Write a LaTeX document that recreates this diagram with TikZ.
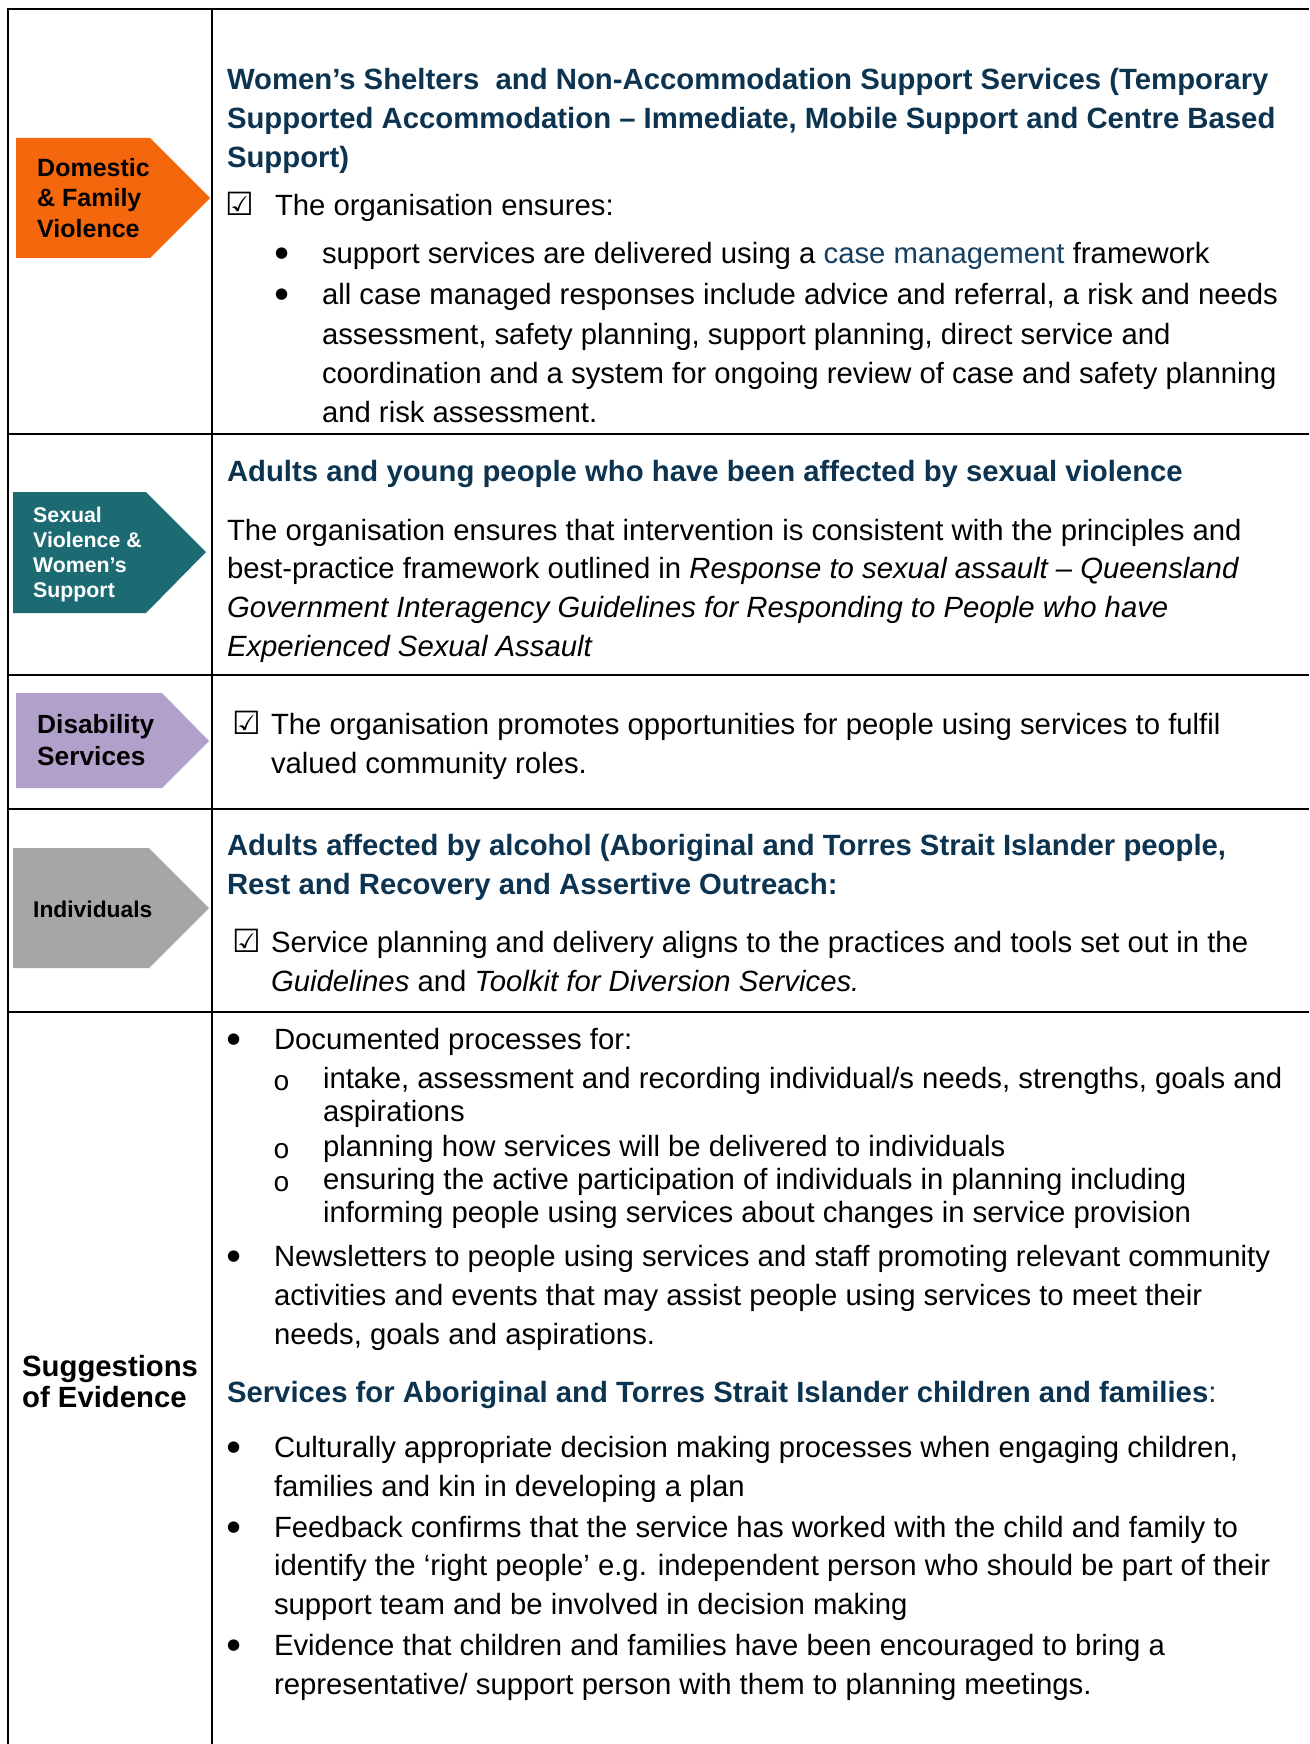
\documentclass[tikz,border=0pt]{standalone}
\usepackage{fontspec}
\setmainfont{Liberation Sans}
\newfontfamily\symfont{DejaVu Sans}
\newfontfamily\obullfont{Liberation Mono}
\definecolor{dforange}{RGB}{245,103,13}
\definecolor{svteal}{RGB}{28,107,114}
\definecolor{dispurple}{RGB}{177,161,202}
\definecolor{indgray}{RGB}{166,166,166}
\definecolor{navy}{RGB}{12,52,80}
\definecolor{linkblue}{RGB}{22,64,98}
\begin{document}
\begin{tikzpicture}[x=1pt,y=-1pt,
  gridline/.style={line width=2.6pt,black},
  txt/.style={anchor=base west,inner sep=0pt,outer sep=0pt,font=\fontsize{29.3}{35}\selectfont},
  hd/.style={txt,text=navy,font=\fontsize{29.3}{35}\selectfont\bfseries},
  chk/.style={anchor=base west,inner sep=0pt,font=\symfont\fontsize{32}{36}\selectfont},
  bul/.style={anchor=base west,inner sep=0pt,font=\symfont\fontsize{15}{20}\selectfont},
  obul/.style={anchor=base west,inner sep=0pt,font=\obullfont\fontsize{28}{30}\selectfont},
  albl/.style={anchor=base west,inner sep=0pt,font=\bfseries}
]
\useasboundingbox (0,0) rectangle (1309,1744);
\fill[white] (0,0) rectangle (1309,1744);

% ---- arrows ----
\fill[dforange] (16,138) -- (150,138) -- (210,198) -- (150,258) -- (16,258) -- cycle;
\fill[svteal] (13,492) -- (146,492) -- (206,552) -- (146,613) -- (13,613) -- cycle;
\fill[dispurple] (16,693) -- (162,693) -- (209,741) -- (162,788) -- (16,788) -- cycle;
\fill[indgray] (13,848) -- (149,848) -- (209,908) -- (149,968) -- (13,968) -- cycle;

% arrow labels
\node[albl,font=\bfseries\fontsize{25}{30}\selectfont] (dfv1) at (37,177) {Domestic};
\node[albl,font=\bfseries\fontsize{25}{30}\selectfont] (dfv2) at (37,207) {\& Family};
\node[albl,font=\bfseries\fontsize{25}{30}\selectfont] (dfv3) at (37,237) {Violence};
\node[albl,text=white,font=\bfseries\fontsize{21.3}{25}\selectfont] (sv1) at (33,522) {Sexual};
\node[albl,text=white,font=\bfseries\fontsize{21.3}{25}\selectfont] (sv2) at (33,547) {Violence \&};
\node[albl,text=white,font=\bfseries\fontsize{21.3}{25}\selectfont] (sv3) at (33,572) {Women’s};
\node[albl,text=white,font=\bfseries\fontsize{21.3}{25}\selectfont] (sv4) at (33,597) {Support};
\node[albl,font=\bfseries\fontsize{26.3}{30}\selectfont] (ds1) at (37,733) {Disability};
\node[albl,font=\bfseries\fontsize{26.3}{30}\selectfont] (ds2) at (37,765) {Services};
\node[albl,font=\bfseries\fontsize{22.8}{26}\selectfont] (ind1) at (33,917) {Individuals};
\node[albl,font=\bfseries\fontsize{29.3}{35}\selectfont] (se1) at (22,1376) {Suggestions};
\node[albl,font=\bfseries\fontsize{29.3}{35}\selectfont] (se2) at (22,1407) {of Evidence};

% ---- grid ----
\draw[gridline] (8,9) -- (1309,9);
\draw[gridline] (8,434) -- (1309,434);
\draw[gridline] (8,675) -- (1309,675);
\draw[gridline] (8,809) -- (1309,809);
\draw[gridline] (8,1012) -- (1309,1012);
\draw[gridline] (8,7.7) -- (8,1744);
\draw[gridline] (212,7.7) -- (212,1744);

% ---- row 1 ----
\node[hd] (r1h1) at (227,90) {Women’s Shelters\ \ and Non-Accommodation Support Services (Temporary};
\node[hd] (r1h2) at (227,129) {Supported Accommodation – Immediate, Mobile Support and Centre Based};
\node[hd] (r1h3) at (227,168) {Support)};
\node[chk] (r1k) at (225,216) {☑};
\node[txt] (r1t) at (275,216) {The organisation ensures:};
\node[bul] (r1b1) at (275,258) {●};
\node[txt] (r1l1) at (322,264) {support services are delivered using a \textcolor{linkblue}{case management} framework};
\node[bul] (r1b2) at (275,298) {●};
\node[txt] (r1l2) at (322,304) {all case managed responses include advice and referral, a risk and needs};
\node[txt] (r1l3) at (322,344) {assessment, safety planning, support planning, direct service and};
\node[txt] (r1l4) at (322,383) {coordination and a system for ongoing review of case and safety planning};
\node[txt] (r1l5) at (322,422) {and risk assessment.};

% ---- row 2 ----
\node[hd] (r2h) at (227,481) {Adults and young people who have been affected by sexual violence};
\node[txt] (r2l1) at (227,540) {The organisation ensures that intervention is consistent with the principles and};
\node[txt] (r2l2) at (227,578) {best-practice framework outlined in \textit{Response to sexual assault – Queensland}};
\node[txt] (r2l3) at (227,617) {\itshape Government Interagency Guidelines for Responding to People who have};
\node[txt] (r2l4) at (227,656) {\itshape Experienced Sexual Assault};

% ---- row 3 ----
\node[chk] (r3k) at (232,734) {☑};
\node[txt] (r3l1) at (271,734) {The organisation promotes opportunities for people using services to fulfil};
\node[txt] (r3l2) at (271,773) {valued community roles.};

% ---- row 4 ----
\node[hd] (r4h1) at (227,855) {Adults affected by alcohol (Aboriginal and Torres Strait Islander people,};
\node[hd] (r4h2) at (227,894) {Rest and Recovery and Assertive Outreach:};
\node[chk] (r4k) at (232,952) {☑};
\node[txt] (r4l1) at (271,952) {Service planning and delivery aligns to the practices and tools set out in the};
\node[txt] (r4l2) at (271,991) {\textit{Guidelines} and \textit{Toolkit for Diversion Services.}};

% ---- row 5 ----
\node[bul] (r5b1) at (227,1043) {●};
\node[txt] (r5l1) at (274,1049) {Documented processes for:};
\node[obul] (r5o1) at (273,1090) {o};
\node[txt] (r5s1) at (323,1088) {intake, assessment and recording individual/s needs, strengths, goals and};
\node[txt] (r5s1b) at (323,1121) {aspirations};
\node[obul] (r5o2) at (273,1158) {o};
\node[txt] (r5s2) at (323,1156) {planning how services will be delivered to individuals};
\node[obul] (r5o3) at (273,1191) {o};
\node[txt] (r5s3) at (323,1189) {ensuring the active participation of individuals in planning including};
\node[txt] (r5s3b) at (323,1222) {informing people using services about changes in service provision};
\node[bul] (r5b2) at (227,1260) {●};
\node[txt] (r5n1) at (274,1266) {Newsletters to people using services and staff promoting relevant community};
\node[txt] (r5n2) at (274,1305) {activities and events that may assist people using services to meet their};
\node[txt] (r5n3) at (274,1344) {needs, goals and aspirations.};
\node[hd] (r5h) at (227,1402) {Services for Aboriginal and Torres Strait Islander children and families\mdseries:};
\node[bul] (r5b3) at (227,1451) {●};
\node[txt] (r5c1) at (274,1457) {Culturally appropriate decision making processes when engaging children,};
\node[txt] (r5c2) at (274,1496) {families and kin in developing a plan};
\node[bul] (r5b4) at (227,1531) {●};
\node[txt] (r5f1) at (274,1537) {Feedback confirms that the service has worked with the child and family to};
\node[txt] (r5f2) at (274,1575) {identify the ‘right people’ e.g. independent person who should be part of their};
\node[txt] (r5f3) at (274,1614) {support team and be involved in decision making};
\node[bul] (r5b5) at (227,1649) {●};
\node[txt] (r5e1) at (274,1655) {Evidence that children and families have been encouraged to bring a};
\node[txt] (r5e2) at (274,1694) {representative/ support person with them to planning meetings.};
\end{tikzpicture}
\end{document}
